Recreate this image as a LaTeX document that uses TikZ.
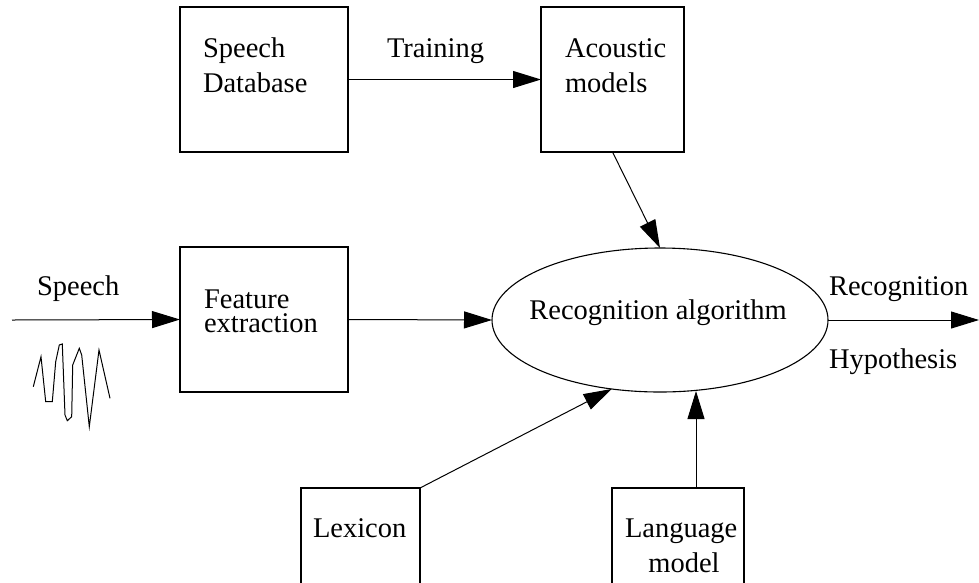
\documentclass[tikz,border=0pt]{standalone}
\usepackage{fontspec}
\setmainfont{Liberation Serif}
\usetikzlibrary{arrows.meta,shapes.geometric}
\tikzset{
  box/.style={draw,line width=1.1pt,rectangle,inner sep=0pt,outer sep=0pt,anchor=north west},
  txt/.style={anchor=base west,inner sep=0pt,outer sep=0pt,font=\fontsize{28.5}{34}\selectfont},
  arr/.style={line width=1pt,-{Triangle[length=28pt,width=17pt]}},
  ln/.style={line width=1pt}
}
\begin{document}
\begin{tikzpicture}[x=1pt,y=-1pt]
\useasboundingbox (0,0) rectangle (979,582);
\clip (0,0) rectangle (979,582);
% boxes
\node[box,minimum width=168pt,minimum height=145pt] (sd) at (180,7) {};
\node[box,minimum width=143pt,minimum height=145pt] (ac) at (541,7) {};
\node[box,minimum width=168pt,minimum height=145pt] (fe) at (180,247) {};
\node[box,minimum width=119pt,minimum height=140pt] (lx) at (301,488) {};
\node[box,minimum width=132pt,minimum height=140pt] (lm) at (612,488) {};
\node[draw,line width=1.1pt,ellipse,minimum width=336pt,minimum height=144pt,inner sep=0pt,outer sep=0pt] (ell) at (660,320) {};
% texts
\node[txt] (t1) at (203,57) {Speech};
\node[txt] (t2) at (203,92) {Database};
\node[txt] (t3) at (565,57) {Acoustic};
\node[txt] (t4) at (565,92) {models};
\node[txt] (t5) at (387,57) {Training};
\node[txt] (t6) at (204,308) {Feature};
\node[txt] (t7) at (204,332) {extraction};
\node[txt] (t8) at (313,537) {Lexicon};
\node[txt] (t9) at (625,537) {Language};
\node[txt,anchor=base] (t10) at (684,572) {model};
\node[txt] (t11) at (829,295) {Recognition};
\node[txt] (t12) at (829,368) {Hypothesis};
\node[txt] (t13) at (37,295) {Speech};
\node[txt,anchor=base] (t14) at (658,319) {Recognition algorithm};
% coordinates
\coordinate (in) at (12,320);
\coordinate (out) at (979,320);
\coordinate (lmtop) at (696,488);
\coordinate (lmend) at (696,391);
% connectors
\draw[arr] (sd.east) -- (ac.west);
\draw[arr] (ac.south) -- (ell.north);
\draw[arr] (in) -- (fe.west);
\draw[arr] (fe.east) -- (ell.west);
\draw[arr] (ell.east) -- (out);
\draw[arr] (lx.north east) -- (ell.235.6);
\draw[arr] (lmtop) -- (lmend);
% waveform
\draw[ln,line join=miter] (33.3,386.7) -- (41,356.7) -- (45.7,401.7) -- (52.3,401.7) -- (55.7,361.7) -- (59.3,345) -- (62.3,344) -- (65,415) -- (67.3,420.7) -- (71.7,416.7) -- (72.7,365) -- (79.3,348.3) -- (81.7,355) -- (89.3,426.7) -- (99,350) -- (110,398.3);
\end{tikzpicture}
\end{document}
